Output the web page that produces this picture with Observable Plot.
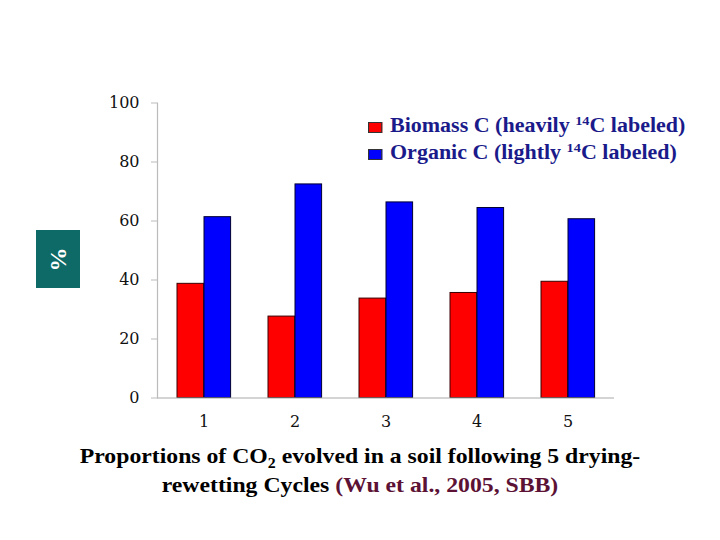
<!DOCTYPE html>
<html>
<head>
<meta charset="utf-8">
<script src="https://cdn.jsdelivr.net/npm/d3@7"></script>
<script src="https://cdn.jsdelivr.net/npm/@observablehq/plot@0.6"></script>
<style>
  html, body { margin: 0; padding: 0; background: #fff; }
  #wrap { position: relative; width: 720px; height: 540px; overflow: hidden; background: #fff; }
  #chart { position: absolute; left: 0; top: 80px; }
  .ylab {
    position: absolute; left: 36px; top: 230px; width: 44px; height: 58px;
    background: #0e6a66; display: flex; align-items: center; justify-content: center;
  }
  .ylab span {
    color: #fff; font: bold 24px "Liberation Serif", serif; transform: rotate(-90deg); display: block;
  }
  .legend { position: absolute; left: 368px; top: 112px; font: bold 20px "Liberation Serif", "Times New Roman", serif; color: #1a1a8a; transform: scaleX(1.1); transform-origin: 0 0; }
  .legend .row { display: flex; align-items: center; height: 27px; white-space: pre; }
  .legend .sw { width: 11px; height: 9px; border: 1px solid #333; margin-right: 7px; margin-top: 3px; }
  .legend sup { font-size: 13px; vertical-align: 0; position: relative; top: -7px; }
  .caption {
    position: absolute; left: 0; top: 443px; width: 720px; text-align: center;
    font: bold 21px "Liberation Serif", "Times New Roman", serif; line-height: 26px; color: #000;
    transform: scaleX(1.13); transform-origin: 360px 0;
  }
  .caption sub { font-size: 14px; vertical-align: 0; position: relative; top: 5px; }
  .caption .ref { color: #5c1235; }
</style>
</head>
<body>
<div id="wrap">
  <div id="chart"></div>
  <div class="ylab"><span>%</span></div>
  <div class="legend" id="legend"></div>
  <div class="caption">Proportions of CO<sub>2</sub> evolved in a soil following 5 drying-<br>rewetting Cycles <span class="ref">(Wu et al., 2005, SBB)</span></div>
</div>
<script>
const cycles = ["1", "2", "3", "4", "5"];
const biomassC = [38.7, 27.6, 33.7, 35.6, 39.4];
const organicC = [61.3, 72.4, 66.3, 64.4, 60.6];
const yTicks = [0, 20, 40, 60, 80, 100];
const seriesNames = ["Biomass C (heavily ", "Organic C (lightly "];
const seriesColors = ["#ff0000", "#0000ff"];

const biomassRows = cycles.map((c, i) => ({cycle: c, value: biomassC[i]}));
const organicRows = cycles.map((c, i) => ({cycle: c, value: organicC[i]}));

const chart = Plot.plot({
  width: 720,
  height: 360,
  marginTop: 22.5,
  marginBottom: 42.5,
  marginLeft: 157,
  marginRight: 106,
  style: {background: "transparent", fontFamily: "'DejaVu Serif', serif", fontSize: "16px", color: "#111"},
  x: {domain: cycles, padding: 0, label: null},
  y: {domain: [0, 100], label: null},
  marks: [
    Plot.barY(biomassRows, {x: "cycle", y: "value", fill: seriesColors[0], stroke: "#3a0000", strokeWidth: 1, insetLeft: 19, insetRight: 45.4}),
    Plot.barY(organicRows, {x: "cycle", y: "value", fill: seriesColors[1], stroke: "#000033", strokeWidth: 1, insetLeft: 46, insetRight: 18.4}),
    Plot.ruleY([0], {stroke: "#aaa", strokeWidth: 1.2}),
    Plot.frame({anchor: "left", stroke: "#bbb", strokeWidth: 1.2}),
    Plot.axisY({ticks: yTicks, tickSize: 6, tickPadding: 12, stroke: "#bbb", label: null, fontSize: 16}),
    Plot.axisX({tickSize: 0, tickPadding: 18, label: null, fontSize: 16})
  ]
});
document.getElementById("chart").appendChild(chart);

const legend = document.getElementById("legend");
seriesNames.forEach((n, i) => {
  const row = document.createElement("div");
  row.className = "row";
  row.innerHTML = `<div class="sw" style="background:${seriesColors[i]}"></div><span>${n}<sup>14</sup>C labeled)</span>`;
  legend.appendChild(row);
});
</script>
</body>
</html>
